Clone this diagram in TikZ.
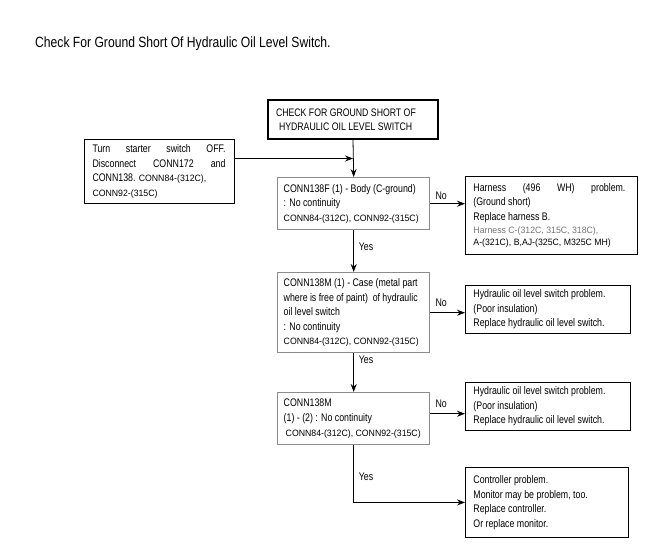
\documentclass[tikz,border=0pt]{standalone}
\usepackage{fontspec}
\setmainfont{Liberation Sans}[FakeStretch=0.80]
\newfontfamily\titlef{Liberation Sans}[FakeStretch=0.82]
\newfontfamily\smallf{Liberation Sans}[FakeStretch=0.95]
\usetikzlibrary{arrows.meta}
\newcommand{\smtxt}[1]{{\smallf\fontsize{9.2}{14.6}\selectfont #1}}
\newcommand{\jline}[2]{\makebox[#1][l]{#2}}
\begin{document}
\begin{tikzpicture}[x=1pt,y=-1pt,
  every node/.style={font=\fontsize{11}{14.6}\selectfont, inner sep=0pt,
    execute at begin node={\spaceskip=0pt\xspaceskip=0pt}},
  decbox/.style={draw=black!45, line width=1.4pt, align=left, inner xsep=7pt, anchor=north west},
  resbox/.style={draw=black, line width=0.9pt, align=left, inner xsep=8pt, anchor=north west},
  arr/.style={-{Stealth[length=8pt,width=6pt]}, line width=0.8pt},
  lbl/.style={font=\fontsize{11}{13}\selectfont, anchor=west}]
\useasboundingbox (0,0) rectangle (650,557);

\node[anchor=west, font=\titlef\fontsize{14.8}{17}\selectfont] (title) at (35,44)
  {Check For Ground Short Of Hydraulic Oil Level Switch.};

\node[draw=black, line width=2pt, anchor=north west, align=left, inner xsep=8pt,
  minimum width=170pt, minimum height=39pt, text width=154pt,
  font=\fontsize{10.9}{13.5}\selectfont] (T) at (267,99)
  {CHECK FOR GROUND SHORT OF\\\hspace*{3pt}HYDRAULIC OIL LEVEL SWITCH};

\node[draw=black, line width=1pt, anchor=north west, align=left, inner xsep=8pt,
  minimum width=149pt, minimum height=64pt, text width=134pt] (L) at (84,139)
  {\jline{133pt}{Turn\hfill starter\hfill switch\hfill OFF.}\\
   \jline{133pt}{Disconnect\hfill CONN172\hfill and}\\
   CONN138. \smtxt{CONN84-(312C),}\\
   \smtxt{CONN92-(315C)}};

\node[decbox, minimum width=151pt, minimum height=52pt, text width=140pt, inner xsep=6pt] (B1) at (277,177)
  {CONN138F (1) - Body (C-ground)\\
   : No continuity\\
   \smtxt{CONN84-(312C), CONN92-(315C)}};

\node[decbox, minimum width=151pt, minimum height=80pt, text width=140pt, inner xsep=6pt] (B2) at (277,272)
  {\jline{134pt}{CONN138M\hfill(1)\hfill-\hfill Case\hfill(metal\hfill part}\\
   \jline{134pt}{where\hfill is\hfill free\hfill of\hfill paint)\hfill\hfill of\hfill hydraulic}\\
   oil level switch\\
   : No continuity\\
   \smtxt{CONN84-(312C), CONN92-(315C)}};

\node[decbox, minimum width=151pt, minimum height=52pt, text width=140pt, inner xsep=6pt] (B3) at (277,392)
  {CONN138M\\
   (1) - (2) : No continuity\\
   \hspace*{2pt}\smtxt{CONN84-(312C), CONN92-(315C)}};

\node[resbox, minimum width=172pt, minimum height=78pt, text width=156pt] (R1) at (465,176)
  {\jline{152pt}{Harness\hfill(496\hfill WH)\hfill problem.}\\
   (Ground short)\\
   Replace harness B.\\[-2pt]
   \smtxt{\color{black!55}Harness C-(312C, 315C, 318C),}\\[-2pt]
   \smtxt{A-(321C), B,AJ-(325C, M325C MH)}};

\node[resbox, minimum width=165pt, minimum height=48pt, text width=149pt] (R2) at (465,285)
  {Hydraulic oil level switch problem.\\
   (Poor insulation)\\
   Replace hydraulic oil level switch.};

\node[resbox, minimum width=165pt, minimum height=48pt, text width=149pt] (R3) at (465,382)
  {Hydraulic oil level switch problem.\\
   (Poor insulation)\\
   Replace hydraulic oil level switch.};

\node[resbox, minimum width=163pt, minimum height=70pt, text width=147pt] (R4) at (465,467)
  {Controller problem.\\
   Monitor may be problem, too.\\
   Replace controller.\\
   Or replace monitor.};

\draw[arr] (T.south) -- (B1.north);
\draw[arr] ([yshift=13pt]L.east) -- ([yshift=13pt]L.east -| T.south);
\draw[arr] (B1.east) -- (B1.east -| R1.west);
\draw[arr] (B2.east) -- (B2.east -| R2.west);
\draw[arr] ([yshift=5pt]B3.east) -- ([yshift=5pt]B3.east -| R3.west);
\draw[arr] (B1.south) -- (B2.north);
\draw[arr] (B2.south) -- (B3.north);
\draw[arr] (B3.south) |- (R4.west);

\node[lbl] (no1) at ([xshift=5pt,yshift=8pt]B1.east) {No};
\node[lbl] (no2) at ([xshift=5pt,yshift=10pt]B2.east) {No};
\node[lbl] (no3) at ([xshift=5pt,yshift=15pt]B3.east) {No};
\node[lbl] (yes1) at ([xshift=5pt,yshift=-16pt]B1.south) {Yes};
\node[lbl] (yes2) at ([xshift=5pt,yshift=-6pt]B2.south) {Yes};
\node[lbl] (yes3) at ([xshift=5pt,yshift=26pt]B3.south |- R4.west) {Yes};
\end{tikzpicture}
\end{document}
